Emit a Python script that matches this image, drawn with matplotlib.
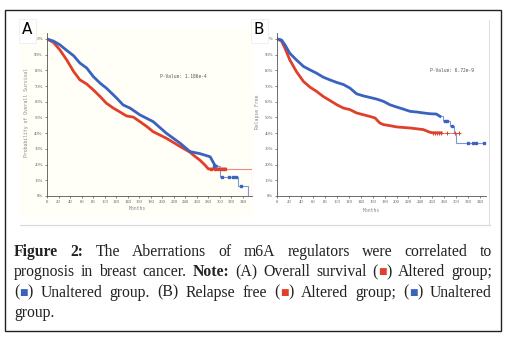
import matplotlib
matplotlib.use("Agg")
import matplotlib.pyplot as plt
from matplotlib.patches import Rectangle
from matplotlib.lines import Line2D

W, H = 509, 340

# ---- panel A: overall survival (months, probability) ----
os_alt_months = [0, 11, 22, 34, 46, 57, 69, 80, 92, 103, 115, 127, 138, 150, 161, 173, 184, 207, 231, 248, 254, 265, 274, 280, 309]
os_alt_surv = [1.0, 0.979, 0.932, 0.868, 0.794, 0.74, 0.713, 0.677, 0.634, 0.591, 0.56, 0.534, 0.51, 0.502, 0.474, 0.443, 0.41, 0.368, 0.315, 0.279, 0.26, 0.229, 0.197, 0.172, 0.172]
os_alt_tail_months = [309, 355, 355]
os_alt_tail_surv = [0.172, 0.172, 0.0]
os_unalt_months = [0, 11, 22, 34, 46, 57, 69, 80, 92, 103, 121, 132, 144, 161, 184, 207, 231, 248, 265, 283, 291, 294]
os_unalt_surv = [1.0, 0.987, 0.964, 0.928, 0.894, 0.847, 0.815, 0.762, 0.719, 0.687, 0.623, 0.58, 0.56, 0.517, 0.474, 0.40, 0.336, 0.283, 0.27, 0.25, 0.197, 0.19]
os_unalt_tail_months = [294, 300, 300, 332, 332, 348, 348]
os_unalt_tail_surv = [0.19, 0.19, 0.123, 0.123, 0.064, 0.064, 0.0]
os_alt_cens = [285, 291, 296, 301, 305, 309]
os_unalt_cens = [289, 304, 316, 322, 327, 336]
os_unalt_cens_surv = [0.19, 0.123, 0.123, 0.123, 0.123, 0.064]

# ---- panel B: relapse free ----
rf_alt_months = [0, 7, 13, 21, 32, 44, 55, 66, 77, 88, 100, 111, 122, 133, 144, 155, 164, 172, 178, 189, 200, 223, 245, 256, 262, 275]
rf_alt_surv = [1.0, 0.987, 0.94, 0.867, 0.793, 0.729, 0.693, 0.666, 0.634, 0.609, 0.581, 0.56, 0.55, 0.529, 0.518, 0.507, 0.497, 0.465, 0.455, 0.448, 0.44, 0.433, 0.423, 0.406, 0.402, 0.402]
rf_alt_tail_months = [275, 305]
rf_alt_tail_surv = [0.402, 0.402]
rf_unalt_months = [0, 7, 13, 21, 32, 44, 55, 66, 77, 88, 100, 111, 122, 133, 144, 155, 167, 178, 189, 200, 211, 223, 234, 245, 256, 267, 273]
rf_unalt_surv = [1.0, 0.994, 0.962, 0.909, 0.867, 0.825, 0.803, 0.782, 0.757, 0.74, 0.723, 0.71, 0.687, 0.651, 0.638, 0.628, 0.617, 0.603, 0.581, 0.567, 0.554, 0.539, 0.535, 0.529, 0.524, 0.522, 0.507]
rf_unalt_tail_months = [273, 278, 278, 290, 290, 297, 297, 300, 300, 346]
rf_unalt_tail_surv = [0.507, 0.507, 0.48, 0.48, 0.448, 0.448, 0.40, 0.40, 0.34, 0.34]
rf_alt_cens = [262, 265, 268, 271, 274, 285, 298, 305]
rf_unalt_cens = [281, 285, 293, 320, 329, 334, 346]
rf_unalt_cens_surv = [0.48, 0.48, 0.448, 0.34, 0.34, 0.34, 0.34]

month_ticks = list(range(0, 341, 20))
pct_ticks = [i / 10 for i in range(11)]
pct_labels = ["%d%%" % (i * 10) for i in range(11)]

RED = "#e0402a"
BLUE = "#3a63bf"
RED_T = "#f08a80"
BLUE_T = "#7b98d8"

fig = plt.figure(figsize=(W / 100, H / 100), dpi=100)


def fx(px):
    return px / W


def fy(py):
    return 1 - py / H


# outer frame
fig.patches.append(Rectangle((fx(5), fy(331)), fx(501) - fx(5), fy(9.5) - fy(331),
                             transform=fig.transFigure, fill=False, ec="#222222", lw=1.0))
# panel backgrounds (behind the axes)
fig.patches.append(Rectangle((fx(19), fy(218)), fx(254) - fx(19), fy(28) - fy(218),
                             transform=fig.transFigure, fc="#fffef7", ec="none", zorder=-5))
fig.add_artist(Line2D([fx(20), fx(490)], [fy(225), fy(225)], color="#d8d8d8", lw=0.8, zorder=-5))
fig.add_artist(Line2D([fx(489), fx(489)], [fy(20), fy(225)], color="#e0e0e0", lw=0.8, zorder=-5))


def km_axes(left, x_scale, xmax):
    ax = fig.add_axes([fx(left), fy(196), xmax * x_scale / W, 1.04 * 157 / H])
    ax.set_xlim(0, xmax)
    ax.set_ylim(0, 1.04)
    ax.patch.set_alpha(0)
    for s in ["top", "right"]:
        ax.spines[s].set_visible(False)
    for s in ["left", "bottom"]:
        ax.spines[s].set_color("#555555")
        ax.spines[s].set_linewidth(0.6)
    ax.set_xticks(month_ticks)
    ax.set_yticks(pct_ticks)
    ax.set_yticklabels(pct_labels)
    ax.tick_params(length=1.5, width=0.5, pad=1.5, labelsize=3.3, colors="#555555",
                   labelfontfamily="Liberation Serif")
    return ax


def draw_curve(ax, m, s, tm, ts, color, tail_color):
    ax.plot(tm, ts, color=tail_color, lw=0.8, solid_joinstyle="miter")
    ax.plot(m, s, color=color, lw=2.0, solid_joinstyle="round")


# panel A
axA = km_axes(47, 0.5765, 356)
draw_curve(axA, os_alt_months, os_alt_surv, os_alt_tail_months, os_alt_tail_surv, RED, RED_T)
draw_curve(axA, os_unalt_months, os_unalt_surv, os_unalt_tail_months, os_unalt_tail_surv, BLUE, BLUE_T)
axA.plot(os_alt_cens, [0.172] * len(os_alt_cens), ls="none", marker="s", ms=1.8, color=RED)
axA.plot(os_unalt_cens, os_unalt_cens_surv, ls="none", marker="s", ms=1.6, color=BLUE)
axA.text(0.55, 0.72, "P-Value: 1.186e-4", transform=axA.transAxes, fontsize=3.3,
         family="DejaVu Sans Mono", color="#555555")
fig.text(fx(27), fy(112), "Probability of Overall Survival", rotation=90, ha="center", va="center",
         fontsize=3.4, color="#888888", family="DejaVu Sans Mono")
fig.text(fx(137), fy(208), "Months", ha="center", va="center", fontsize=3.4,
         color="#888888", family="DejaVu Sans Mono")

# panel B
axB = km_axes(277.3, 0.596, 350)
draw_curve(axB, rf_alt_months, rf_alt_surv, rf_alt_tail_months, rf_alt_tail_surv, RED, RED_T)
draw_curve(axB, rf_unalt_months, rf_unalt_surv, rf_unalt_tail_months, rf_unalt_tail_surv, BLUE, BLUE_T)
axB.plot(rf_alt_cens, [0.402] * len(rf_alt_cens), ls="none", marker="+", ms=2.2, mew=0.7, color=RED)
axB.plot(rf_unalt_cens, rf_unalt_cens_surv, ls="none", marker="s", ms=1.6, color=BLUE)
axB.text(0.73, 0.76, "P-Value: 6.72e-9", transform=axB.transAxes, fontsize=3.3,
         family="DejaVu Sans Mono", color="#555555")
fig.text(fx(258), fy(112), "Relapse Free", rotation=90, ha="center", va="center",
         fontsize=3.4, color="#888888", family="DejaVu Sans Mono")
fig.text(fx(371), fy(210), "Months", ha="center", va="center", fontsize=3.4,
         color="#888888", family="DejaVu Sans Mono")

# panel letters in small white boxes
for x0, x1, letter in [(19, 36, "A"), (251, 268, "B")]:
    fig.patches.append(Rectangle((fx(x0), fy(43)), fx(x1) - fx(x0), fy(19) - fy(43),
                                 transform=fig.transFigure, fc="white", ec="#eeeeee", lw=0.6))
    fig.text(fx((x0 + x1) / 2 - 0.5), fy(33.5), letter, ha="center", va="baseline",
             fontsize=11, family="DejaVu Sans", color="black")

# ---- caption, justified ----
SERIF = ["Liberation Serif", "DejaVu Serif"]
CAP_FS = 11.3
REG = dict(fontsize=CAP_FS, family=SERIF, color="#222222")
BOLD = dict(fontsize=CAP_FS, family=SERIF, color="#222222", weight="bold")


def sq(color):
    # small coloured square, lifted to sit mid-height between the brackets
    return ("\u25a0", dict(fontsize=6.5, family="DejaVu Sans", color=color), 1.8)


def plain(words):
    return [[(w, REG, 0)] for w in words.split()]


def paren(color):
    return [("(", REG, 0), sq(color), (")", REG, 0)]


caption_lines = [
    [[("Figure", BOLD, 0)], [("2:", BOLD, 0)]] + plain("The Aberrations of m6A regulators were correlated to"),
    plain("prognosis in breast cancer.") + [[("Note:", BOLD, 0)]] + plain("(A) Overall survival")
    + [paren(RED)] + plain("Altered group;"),
    [paren(BLUE)] + plain("Unaltered group. (B) Relapse free")
    + [paren(RED)] + plain("Altered group;")
    + [paren(BLUE)] + plain("Unaltered"),
    plain("group."),
]
baselines = [255.7, 276.2, 296.7, 317.0]

fig.canvas.draw()
renderer = fig.canvas.get_renderer()


def width_of(t):
    return t.get_window_extent(renderer).width


probe_a = fig.text(0, 0, "a a", **REG)
probe_b = fig.text(0, 0, "aa", **REG)
space_w = width_of(probe_a) - width_of(probe_b)
probe_a.remove()
probe_b.remove()

X0, X1 = 14, 492
for i, (words, yb) in enumerate(zip(caption_lines, baselines)):
    arts = []
    for w in words:
        segs = [fig.text(0, fy(yb - dy), s, ha="left", va="baseline", **kw) for s, kw, dy in w]
        arts.append(segs)
    seg_w = [[width_of(t) for t in segs] for segs in arts]
    total = sum(sum(ws) for ws in seg_w)
    if i < len(caption_lines) - 1 and len(words) > 1:
        gap = (X1 - X0 - total) / (len(words) - 1)
    else:
        gap = space_w
    x = X0
    for segs, ws in zip(arts, seg_w):
        for t, w in zip(segs, ws):
            t.set_x(fx(x))
            x += w
        x += gap

fig.savefig("out.png", dpi=100)
